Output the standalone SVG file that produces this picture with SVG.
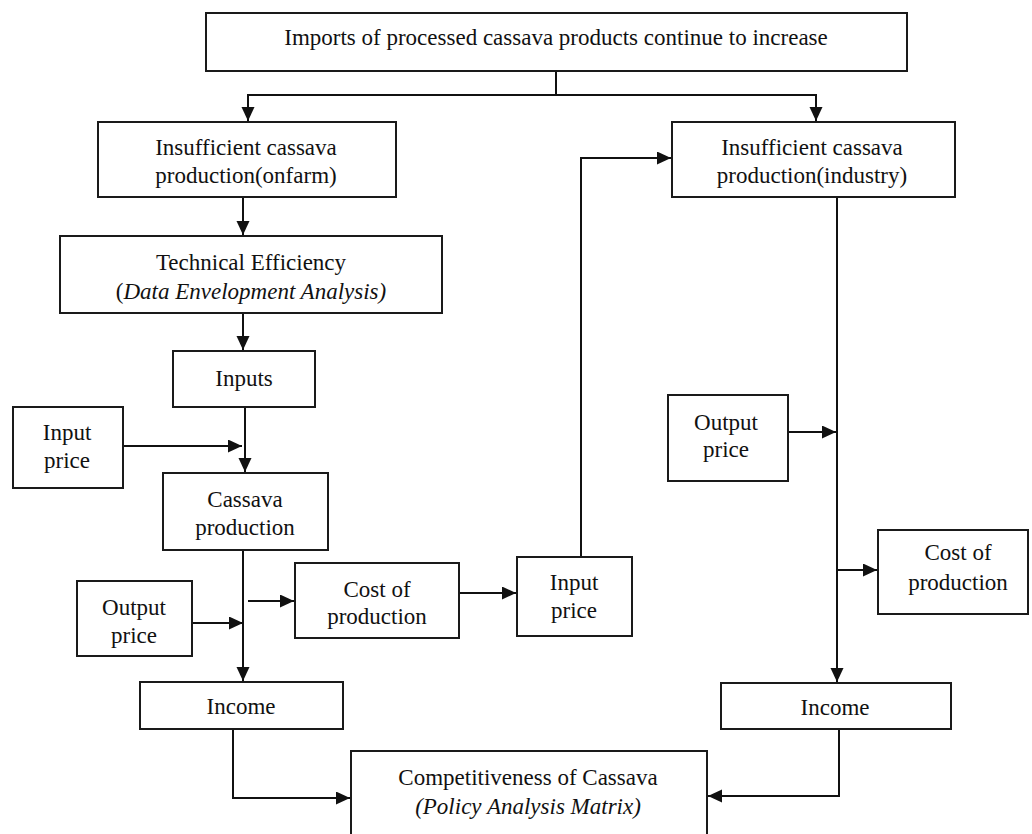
<svg xmlns="http://www.w3.org/2000/svg" width="1032" height="834" viewBox="0 0 1032 834">
<defs>
<marker id="arr" markerUnits="userSpaceOnUse" markerWidth="16" markerHeight="14" refX="14" refY="6.5" orient="auto">
<path d="M0,0 L14,6.5 L0,13 Z" fill="#111"/>
</marker>
<style>
.box{fill:#fff;stroke:#1a1a1a;stroke-width:2}
.t{font-family:"Liberation Serif","Times New Roman",serif;font-size:23px;fill:#111;text-anchor:middle}
.i{font-style:italic}
.c{fill:none;stroke:#111;stroke-width:2}
</style>
</defs>
<rect width="1032" height="834" fill="#fff"/>
<g id="connectors">
<path class="c" d="M556,71 V95 H248 V121" marker-end="url(#arr)"/>
<path class="c" d="M556,95 H816 V121" marker-end="url(#arr)"/>
<path class="c" d="M243,197 V235" marker-end="url(#arr)"/>
<path class="c" d="M243,313 V350" marker-end="url(#arr)"/>
<path class="c" d="M245,407 V472" marker-end="url(#arr)"/>
<path class="c" d="M123,446 H242" marker-end="url(#arr)"/>
<path class="c" d="M243,550 V681" marker-end="url(#arr)"/>
<path class="c" d="M192,623 H243" marker-end="url(#arr)"/>
<path class="c" d="M248,601 H294" marker-end="url(#arr)"/>
<path class="c" d="M459,593 H516" marker-end="url(#arr)"/>
<path class="c" d="M581,557 V158 H671" marker-end="url(#arr)"/>
<path class="c" d="M837,197 V682" marker-end="url(#arr)"/>
<path class="c" d="M788,432 H836" marker-end="url(#arr)"/>
<path class="c" d="M838,570 H877" marker-end="url(#arr)"/>
<path class="c" d="M233,729 V798 H350" marker-end="url(#arr)"/>
<path class="c" d="M839,729 V796 H708" marker-end="url(#arr)"/>
</g>
<g id="n-imports"><rect class="box" x="206" y="13" width="701" height="58"/><text class="t" x="556" y="45">Imports of processed cassava products continue to increase</text></g>
<g id="n-onfarm"><rect class="box" x="98" y="122" width="298" height="75"/><text class="t" x="246" y="155">Insufficient cassava</text><text class="t" x="246" y="183">production(onfarm)</text></g>
<g id="n-tech"><rect class="box" x="60" y="236" width="382" height="77"/><text class="t" x="251" y="270">Technical Efficiency</text><text class="t" x="251" y="299">(<tspan class="i">Data Envelopment Analysis)</tspan></text></g>
<g id="n-inputs"><rect class="box" x="173" y="351" width="142" height="56"/><text class="t" x="244" y="386">Inputs</text></g>
<g id="n-inputprice1"><rect class="box" x="13" y="407" width="110" height="81"/><text class="t" x="67" y="440">Input</text><text class="t" x="67" y="468">price</text></g>
<g id="n-cassava"><rect class="box" x="163" y="473" width="165" height="77"/><text class="t" x="245" y="507">Cassava</text><text class="t" x="245" y="535">production</text></g>
<g id="n-outputprice1"><rect class="box" x="77" y="581" width="115" height="75"/><text class="t" x="134" y="615">Output</text><text class="t" x="134" y="643">price</text></g>
<g id="n-cost1"><rect class="box" x="295" y="563" width="164" height="75"/><text class="t" x="377" y="597">Cost of</text><text class="t" x="377" y="624">production</text></g>
<g id="n-inputprice2"><rect class="box" x="517" y="557" width="115" height="79"/><text class="t" x="574" y="590">Input</text><text class="t" x="574" y="618">price</text></g>
<g id="n-income1"><rect class="box" x="140" y="682" width="203" height="47"/><text class="t" x="241" y="714">Income</text></g>
<g id="n-comp"><rect class="box" x="351" y="751" width="356" height="95"/><text class="t" x="528" y="785">Competitiveness of Cassava</text><text class="t i" x="528" y="814">(Policy Analysis Matrix)</text></g>
<g id="n-industry"><rect class="box" x="672" y="122" width="283" height="75"/><text class="t" x="812" y="155">Insufficient cassava</text><text class="t" x="812" y="183">production(industry)</text></g>
<g id="n-outputprice2"><rect class="box" x="668" y="395" width="120" height="86"/><text class="t" x="726" y="430">Output</text><text class="t" x="726" y="457">price</text></g>
<g id="n-cost2"><rect class="box" x="878" y="530" width="150" height="84"/><text class="t" x="958" y="560">Cost of</text><text class="t" x="958" y="590">production</text></g>
<g id="n-income2"><rect class="box" x="721" y="683" width="230" height="46"/><text class="t" x="835" y="715">Income</text></g>
</svg>
